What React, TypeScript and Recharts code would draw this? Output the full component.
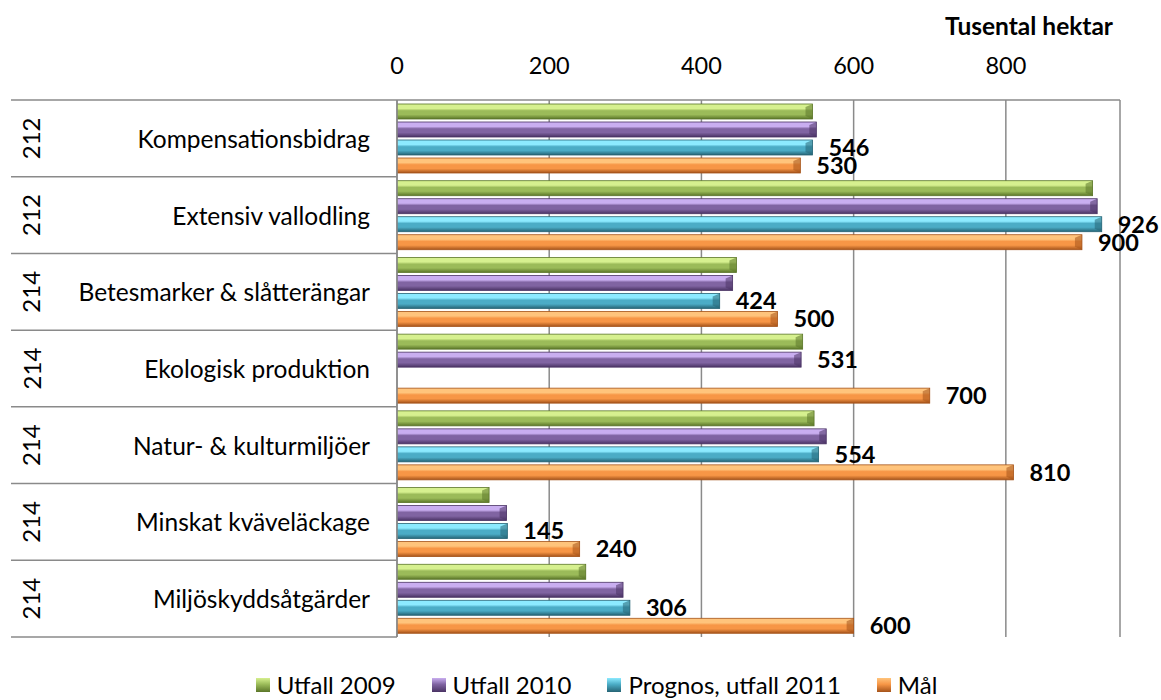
import React from 'react';
import {
  BarChart,
  Bar,
  XAxis,
  YAxis,
  CartesianGrid,
  LabelList,
  Legend
} from 'recharts';

// ============================================================================
// Data
// ============================================================================

const CATEGORIES = [
  'Kompensationsbidrag',
  'Extensiv vallodling',
  'Betesmarker & slåtterängar',
  'Ekologisk produktion',
  'Natur- & kulturmiljöer',
  'Minskat kväveläckage',
  'Miljöskyddsåtgärder'
];
const CODES = ['212', '212', '214', '214', '214', '214', '214'];

const UTFALL_2009 = [546, 914, 446, 533, 548, 121, 248];
const UTFALL_2010 = [551, 920, 441, 531, 564, 144, 297];
const PROGNOS_2011 = [546, 926, 424, null, 554, 145, 306];
const MAL = [530, 900, 500, 700, 810, 240, 600];

// the only label shown on the 2010 series
const LABEL_2010 = [null, null, null, 531, null, null, null];

const X_TICKS = [0, 200, 400, 600, 800];
const X_DOMAIN = [0, 950];

const SERIES = [
  { key: 'u2009', name: 'Utfall 2009', light: '#d6f08f', base: '#9bbb59', dark: '#5b7629' },
  { key: 'u2010', name: 'Utfall 2010', light: '#c9aef0', base: '#8064a2', dark: '#4a3364' },
  { key: 'p2011', name: 'Prognos, utfall 2011', light: '#8ceaff', base: '#4bacc6', dark: '#266475' },
  { key: 'mal', name: 'Mål', light: '#ffc47c', base: '#f79646', dark: '#a5531a' }
];

const chartData = CATEGORIES.map((name, i) => ({
  name,
  code: CODES[i],
  u2009: UTFALL_2009[i],
  u2010: UTFALL_2010[i],
  p2011: PROGNOS_2011[i],
  mal: MAL[i],
  label2010: LABEL_2010[i]
}));

// ============================================================================
// Layout
// ============================================================================

const WIDTH = 1161;
const HEIGHT = 700;
const MARGIN = { top: 40, right: 41, bottom: 37, left: 11 };
const X_AXIS_HEIGHT = 60;
const LEGEND_HEIGHT = 26;
const PLOT_TOP = MARGIN.top + X_AXIS_HEIGHT;
const PLOT_BOTTOM = HEIGHT - MARGIN.bottom - LEGEND_HEIGHT;
const BAND = (PLOT_BOTTOM - PLOT_TOP) / CATEGORIES.length;
const AXIS_X = 397;
const FONT = 'Lato, "Open Sans", sans-serif';
const GRID = '#8a8a8a';

// ============================================================================
// Pieces
// ============================================================================

const BevelBar = (props: any) => {
  const { x, y, width, height, s } = props;
  if (!width || width <= 0) return null;
  const b = Math.min(7, width);
  return (
    <g>
      <rect x={x} y={y} width={width} height={height} fill={`url(#grad-${s.key})`} />
      <polygon
        points={`${x + width - b},${y + 3} ${x + width},${y} ${x + width},${y + height} ${x + width - b},${y + height - 3}`}
        fill={s.dark}
        opacity={0.55}
      />
      <rect x={x} y={y} width={width} height={height} fill="none" stroke={s.dark} strokeWidth={0.8} />
    </g>
  );
};

const CategoryTick = (props: any) => {
  const { x, y, payload, index } = props;
  const row = chartData[index] || chartData.find((d) => d.name === payload.value);
  const isLast = index === CATEGORIES.length - 1;
  return (
    <g>
      <line x1={11} x2={AXIS_X} y1={y - BAND / 2} y2={y - BAND / 2} stroke={GRID} strokeWidth={1.5} />
      {isLast && (
        <line x1={11} x2={AXIS_X} y1={y + BAND / 2} y2={y + BAND / 2} stroke={GRID} strokeWidth={1.5} />
      )}
      <text
        x={x}
        y={y}
        textAnchor="end"
        dominantBaseline="central"
        fontFamily={FONT}
        fontSize={24.5}
        fill="#000"
      >
        {payload.value}
      </text>
      <text
        x={31}
        y={y}
        transform={`rotate(-90 31 ${y})`}
        textAnchor="middle"
        dominantBaseline="central"
        fontFamily={FONT}
        fontSize={24}
        fill="#000"
      >
        {row ? row.code : ''}
      </text>
    </g>
  );
};

const LegendContent = () => (
  <div
    style={{
      display: 'flex',
      justifyContent: 'center',
      gap: 36,
      paddingLeft: 32,
      fontFamily: FONT,
      fontSize: 24,
      color: '#000',
      height: LEGEND_HEIGHT,
      lineHeight: `${LEGEND_HEIGHT}px`
    }}
  >
    {SERIES.map((s) => (
      <div key={s.key} style={{ display: 'flex', alignItems: 'center', gap: 7 }}>
        <span
          style={{
            display: 'inline-block',
            width: 14,
            height: 14,
            background: `linear-gradient(180deg, ${s.light} 0%, ${s.base} 45%, ${s.dark} 100%)`
          }}
        />
        <span>{s.name}</span>
      </div>
    ))}
  </div>
);

// ============================================================================
// Component
// ============================================================================

export default function App() {
  return (
    <div style={{ position: 'absolute', left: 0, top: 0, width: WIDTH, height: HEIGHT, background: '#fff' }}>
      <div
        style={{
          position: 'absolute',
          right: WIDTH - 1113,
          top: 11,
          fontFamily: FONT,
          fontWeight: 700,
          fontSize: 24.5,
          color: '#000',
          zIndex: 2
        }}
      >
        Tusental hektar
      </div>

      <BarChart
        width={WIDTH}
        height={HEIGHT}
        data={chartData}
        layout="vertical"
        margin={MARGIN}
        barSize={15}
        barGap={3}
      >
        <defs>
          {SERIES.map((s) => (
            <linearGradient key={s.key} id={`grad-${s.key}`} x1="0" y1="0" x2="0" y2="1">
              <stop offset="0%" stopColor={s.light} />
              <stop offset="30%" stopColor={s.light} />
              <stop offset="45%" stopColor={s.base} />
              <stop offset="70%" stopColor={s.base} />
              <stop offset="100%" stopColor={s.dark} />
            </linearGradient>
          ))}
        </defs>

        <CartesianGrid horizontal={false} vertical stroke={GRID} strokeWidth={1.5} />

        <XAxis
          type="number"
          orientation="top"
          domain={X_DOMAIN}
          ticks={X_TICKS}
          height={X_AXIS_HEIGHT}
          tickLine={false}
          tickSize={0}
          tickMargin={26}
          axisLine={{ stroke: GRID, strokeWidth: 1.5 }}
          tick={{ fill: '#000', fontSize: 23.5, fontFamily: FONT }}
          allowDataOverflow
        />

        <YAxis
          type="category"
          dataKey="name"
          width={AXIS_X - MARGIN.left}
          tickLine={false}
          tickSize={0}
          tickMargin={27}
          axisLine={{ stroke: GRID, strokeWidth: 1.5 }}
          tick={<CategoryTick />}
          interval={0}
        />

        <Legend
          verticalAlign="bottom"
          content={<LegendContent />}
          wrapperStyle={{ top: 672, bottom: 'auto', left: 0, width: WIDTH }}
        />

        {SERIES.map((s) => (
          <Bar
            key={s.key}
            dataKey={s.key}
            name={s.name}
            fill={s.base}
            isAnimationActive={false}
            shape={(p: any) => <BevelBar {...p} s={s} />}
          >
            {s.key === 'u2010' && (
              <LabelList
                dataKey="label2010"
                position="right"
                offset={16}
                fill="#000"
                fontSize={23.5}
                fontWeight={700}
                fontFamily={FONT}
              />
            )}
            {(s.key === 'p2011' || s.key === 'mal') && (
              <LabelList
                dataKey={s.key}
                position="right"
                offset={16}
                fill="#000"
                fontSize={23.5}
                fontWeight={700}
                fontFamily={FONT}
              />
            )}
          </Bar>
        ))}
      </BarChart>
    </div>
  );
}
